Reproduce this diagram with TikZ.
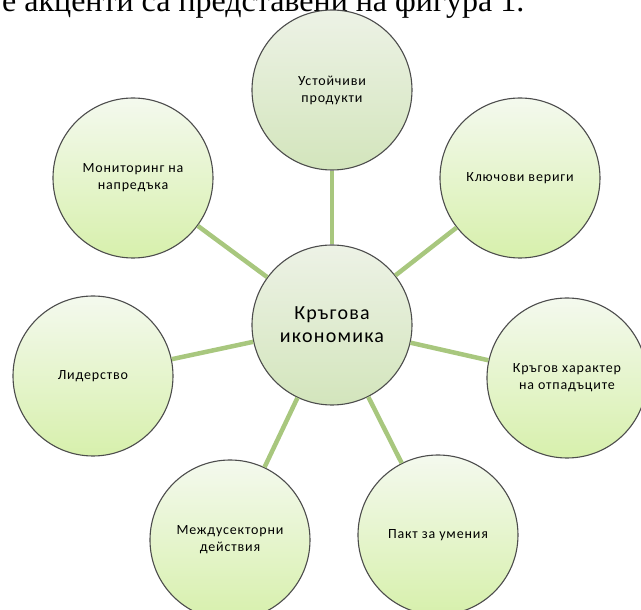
\documentclass[tikz,border=0pt]{standalone}
\usepackage{fontspec}
\setmainfont{Liberation Serif}
\newfontfamily\lblfont[LetterSpace=6]{Carlito}
\usetikzlibrary{positioning}

\definecolor{spokegreen}{HTML}{A8C77E}
\definecolor{limetop}{HTML}{F4F9EE}
\definecolor{limebottom}{HTML}{D7F0AC}
\definecolor{greytop}{HTML}{EDF2E6}
\definecolor{greybottom}{HTML}{D3E5BC}

\tikzset{
	bubble/.style={circle, draw=black!70, line width=1.1pt, minimum size=160pt, inner sep=0pt,
		align=center, top color=limetop, bottom color=limebottom,
		font=\lblfont\fontsize{14}{17}\selectfont},
	greybubble/.style={bubble, top color=greytop, bottom color=greybottom},
	spoke/.style={draw=spokegreen, line width=4.5pt},
}

\begin{document}
\begin{tikzpicture}[node distance=2cm, on grid]
	\useasboundingbox (-332pt,-285pt) rectangle (309pt,325pt);
	\node[anchor=base west, font=\fontsize{32}{36}\selectfont, inner sep=0pt] (caption) at (-330pt,313pt) {е акценти са представени на фигура 1.};

	\node[greybubble, font=\lblfont\fontsize{20}{23}\selectfont] (hub) at (0,0) {Кръгова\\икономика};
	\node[greybubble] (prod) [above=235pt of hub] {Устойчиви\\продукти};
	\node[bubble] (chains) [above right=147pt and 188pt of hub] {Ключови вериги};
	\node[bubble] (waste) [below right=53pt and 235pt of hub] {Кръгов характер\\на отпадъците};
	\node[bubble] (skills) [below right=210pt and 106pt of hub] {Пакт за умения};
	\node[bubble] (cross) [below left=215pt and 102pt of hub] {Междусекторни\\действия};
	\node[bubble] (lead) [below left=51pt and 239pt of hub] {Лидерство};
	\node[bubble] (monitor) [above left=147pt and 199pt of hub] {Мониторинг на\\напредъка};

	\path[spoke]
		(hub) edge (prod)
		(hub) edge (chains)
		(hub) edge (waste)
		(hub) edge (skills)
		(hub) edge (cross)
		(hub) edge (lead)
		(hub) edge (monitor);
\end{tikzpicture}
\end{document}
